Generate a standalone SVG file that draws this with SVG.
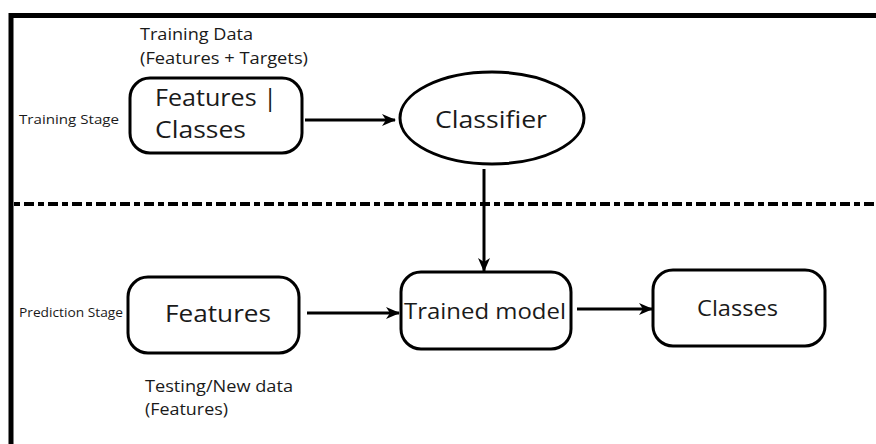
<svg xmlns="http://www.w3.org/2000/svg" width="876" height="444" viewBox="0 0 876 444">
<style>
.box{fill:#fff;stroke:#000;stroke-width:3}
.lbl{font-family:"Open Sans","Noto Sans",sans-serif;fill:#1a1a1a}
.conn{stroke:#000;stroke-width:3;fill:none}
</style>
<defs>
<marker id="ah" markerWidth="14" markerHeight="12" refX="13" refY="6" orient="auto" markerUnits="userSpaceOnUse">
<path d="M0,0 L14,6 L0,12 L4,6 Z" fill="#000"/>
</marker>
</defs>
<rect width="876" height="444" fill="#fff"/>
<g id="frame">
<path d="M11,444 V15.5 H876" fill="none" stroke="#000" stroke-width="5"/>
<line x1="14" y1="204" x2="876" y2="204" stroke="#000" stroke-width="4" stroke-dasharray="6 4 10 4"/>
</g>
<g id="stage-labels">
<text class="lbl" x="19" y="124" font-size="13" textLength="100" lengthAdjust="spacingAndGlyphs">Training Stage</text>
<text class="lbl" x="19" y="317" font-size="12.5" textLength="104" lengthAdjust="spacingAndGlyphs">Prediction Stage</text>
<text class="lbl" x="140" y="40" font-size="16" textLength="113" lengthAdjust="spacingAndGlyphs">Training Data</text>
<text class="lbl" x="140" y="64" font-size="16" textLength="168" lengthAdjust="spacingAndGlyphs">(Features + Targets)</text>
<text class="lbl" x="145" y="392" font-size="16" textLength="148" lengthAdjust="spacingAndGlyphs">Testing/New data</text>
<text class="lbl" x="145" y="415" font-size="16" textLength="83" lengthAdjust="spacingAndGlyphs">(Features)</text>
</g>
<g id="n-training-data">
<rect class="box" x="130" y="78" width="172" height="75" rx="20"/>
<text class="lbl" x="155" y="106" font-size="24" textLength="122" lengthAdjust="spacingAndGlyphs">Features |</text>
<text class="lbl" x="155" y="138" font-size="24" textLength="91" lengthAdjust="spacingAndGlyphs">Classes</text>
</g>
<g id="n-classifier">
<ellipse class="box" cx="492" cy="118" rx="92" ry="46"/>
<text class="lbl" x="435" y="128" font-size="24" textLength="112" lengthAdjust="spacingAndGlyphs">Classifier</text>
</g>
<g id="n-features">
<rect class="box" x="128" y="277" width="171" height="76" rx="20"/>
<text class="lbl" x="165" y="322" font-size="24" textLength="106" lengthAdjust="spacingAndGlyphs">Features</text>
</g>
<g id="n-trained">
<rect class="box" x="401" y="272" width="170" height="77" rx="20"/>
<text class="lbl" x="404" y="319" font-size="22" textLength="162" lengthAdjust="spacingAndGlyphs">Trained model</text>
</g>
<g id="n-classes">
<rect class="box" x="653" y="270" width="172" height="76" rx="20"/>
<text class="lbl" x="697" y="316" font-size="22" textLength="81" lengthAdjust="spacingAndGlyphs">Classes</text>
</g>
<g id="connectors">
<line class="conn" x1="305" y1="120" x2="395" y2="120" marker-end="url(#ah)"/>
<line class="conn" x1="484" y1="169" x2="484" y2="271" marker-end="url(#ah)"/>
<line class="conn" x1="307" y1="313" x2="399" y2="313" marker-end="url(#ah)"/>
<line class="conn" x1="577" y1="309" x2="652" y2="309" marker-end="url(#ah)"/>
</g>
</svg>
